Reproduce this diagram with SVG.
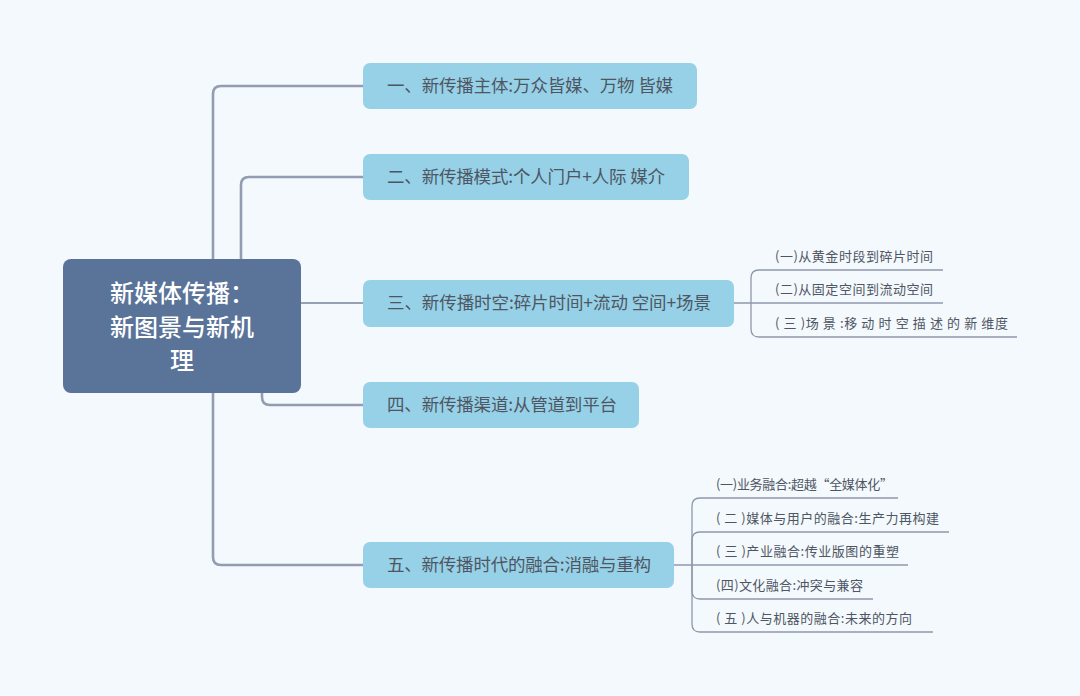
<svg xmlns="http://www.w3.org/2000/svg" width="1080" height="696" viewBox="0 0 1080 696">
<style>
.bg{fill:#f4f9fd}
.root{fill:#5a7399}
.rt{font-family:"Noto Sans CJK SC","Noto Sans",sans-serif;font-size:24px;font-weight:500;fill:#ffffff;text-anchor:middle}
.br{fill:#96d1e7}
.bt{font-family:"Noto Sans CJK SC","Noto Sans",sans-serif;font-size:17.5px;fill:#4e5663}
.st{font-family:"Noto Sans CJK SC","Noto Sans",sans-serif;font-size:13px;fill:#4e5663}
.c{fill:none;stroke:#97a1b4;stroke-width:2}
.cv{fill:none;stroke:#939db1;stroke-width:2.6}
.s{fill:none;stroke:#8e98ac;stroke-width:1.3}
</style>
<rect class="bg" x="0" y="0" width="1080" height="696"/>
<g id="connectors">
<path class="cv" d="M213,259 V94 Q213,86 221,86 H363"/>
<path class="cv" d="M241,259 V185 Q241,177 249,177 H363"/>
<path class="c" d="M301,303 H363"/>
<path class="cv" d="M262,393 V397 Q262,405 270,405 H363"/>
<path class="cv" d="M213,393 V557 Q213,565 221,565 H363"/>
<path class="s" d="M734,303 H943"/>
<path class="s" d="M751,303 V278 Q751,270 759,270 H943"/>
<path class="s" d="M751,303 V329 Q751,337 759,337 H1017"/>
<path class="s" d="M674,565 H908"/>
<path class="s" d="M692,565 V506 Q692,498 700,498 H898"/>
<path class="s" d="M692,565 V540 Q692,532 700,532 H949"/>
<path class="s" d="M692,565 V591 Q692,599 700,599 H873"/>
<path class="s" d="M692,565 V624 Q692,632 700,632 H933"/>
</g>
<g id="root">
<rect class="root" x="63" y="259" width="238" height="134" rx="8"/>
<text class="rt" x="182" y="302">新媒体传播：</text>
<text class="rt" x="182" y="336">新图景与新机</text>
<text class="rt" x="182" y="369">理</text>
</g>
<g id="b1">
<rect class="br" x="363" y="63" width="334" height="46" rx="7"/>
<text class="bt" x="387" y="92" textLength="286" lengthAdjust="spacing">一、新传播主体:万众皆媒、万物 皆媒</text>
</g>
<g id="b2">
<rect class="br" x="363" y="154" width="326" height="46" rx="7"/>
<text class="bt" x="387" y="183" textLength="278" lengthAdjust="spacing">二、新传播模式:个人门户+人际 媒介</text>
</g>
<g id="b3">
<rect class="br" x="363" y="280" width="371" height="47" rx="7"/>
<text class="bt" x="387" y="309" textLength="324" lengthAdjust="spacing">三、新传播时空:碎片时间+流动 空间+场景</text>
</g>
<g id="b4">
<rect class="br" x="363" y="382" width="276" height="46" rx="7"/>
<text class="bt" x="387" y="411" textLength="230" lengthAdjust="spacing">四、新传播渠道:从管道到平台</text>
</g>
<g id="b5">
<rect class="br" x="363" y="542" width="311" height="46" rx="7"/>
<text class="bt" x="387" y="571" textLength="264" lengthAdjust="spacing">五、新传播时代的融合:消融与重构</text>
</g>
<g id="s3a"><text class="st" x="775" y="261" textLength="158" lengthAdjust="spacing">(一)从黄金时段到碎片时间</text></g>
<g id="s3b"><text class="st" x="775" y="294" textLength="158" lengthAdjust="spacing">(二)从固定空间到流动空间</text></g>
<g id="s3c"><text class="st" x="775" y="328" textLength="233" lengthAdjust="spacing">( 三 )场 景 :移 动 时 空 描 述 的 新 维度</text></g>
<g id="s5a"><text class="st" x="716" y="489" textLength="177" lengthAdjust="spacing">(一)业务融合:超越“全媒体化”</text></g>
<g id="s5b"><text class="st" x="716" y="523" textLength="223" lengthAdjust="spacing">( 二 )媒体与用户的融合:生产力再构建</text></g>
<g id="s5c"><text class="st" x="716" y="556" textLength="183" lengthAdjust="spacing">( 三 )产业融合:传业版图的重塑</text></g>
<g id="s5d"><text class="st" x="716" y="590" textLength="147" lengthAdjust="spacing">(四)文化融合:冲突与兼容</text></g>
<g id="s5e"><text class="st" x="716" y="623" textLength="196" lengthAdjust="spacing">( 五 )人与机器的融合:未来的方向</text></g>
</svg>
